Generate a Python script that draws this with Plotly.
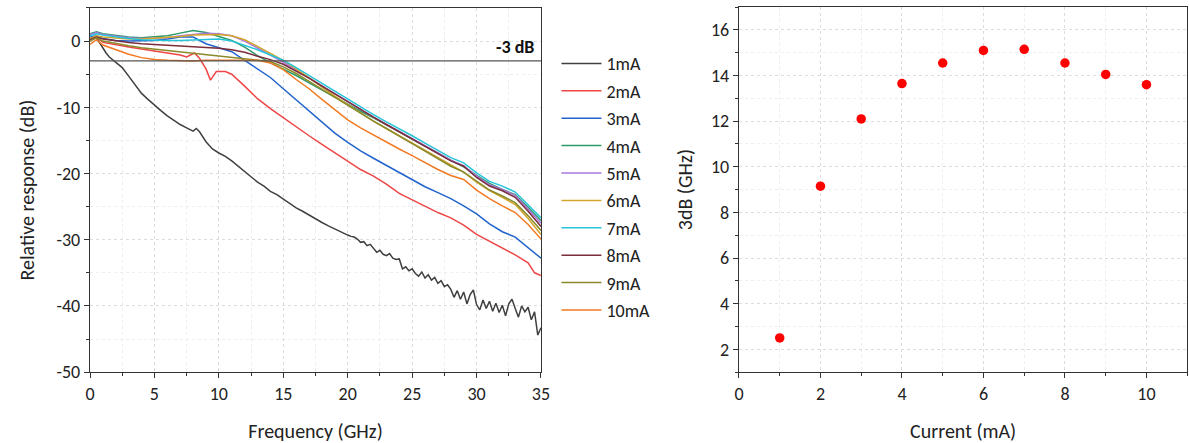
import plotly.graph_objects as go

# ---------------- data ----------------
series_names = ["1mA", "2mA", "3mA", "4mA", "5mA", "6mA", "7mA", "8mA", "9mA", "10mA"]
series_colors = ["#404040", "#ee4646", "#2164cc", "#2e9a68", "#a877dc", "#d2a62c",
                 "#26c4d8", "#7a2e3c", "#8a8a2a", "#f27a22"]

# shared frequency grid (GHz) for 3mA..10mA
freq = [0, 0.5, 1, 2, 3, 4, 5, 6, 7, 8, 9, 10, 11, 12, 13, 14, 15, 16, 17, 18, 19,
        20, 21, 22, 23, 24, 25, 26, 27, 28, 29, 30, 31, 32, 33, 34, 35]

# 1 mA (finer sampling, noisy at high frequency)
freq_1mA = [0, 0.25, 0.5, 0.75, 1, 1.25, 1.5, 2, 2.5, 3, 3.5, 4, 4.5, 5, 5.5, 6, 6.5, 7, 7.5, 8,
            8.25, 8.5, 9, 9.5, 10, 10.5, 11, 11.5, 12, 12.5, 13, 13.5, 14, 14.5, 15, 15.5, 16,
            16.5, 17, 17.5, 18, 18.5, 19, 19.5, 20,
            20.25, 20.5, 20.75, 21, 21.25, 21.5, 21.75, 22, 22.25, 22.5, 22.75, 23, 23.25, 23.5,
            23.75, 24, 24.25, 24.5, 24.75, 25, 25.25, 25.5, 25.75, 26, 26.25, 26.5, 26.75, 27,
            27.25, 27.5, 27.75, 28, 28.25, 28.5, 28.75, 29, 29.25, 29.5, 29.75, 30, 30.25, 30.5,
            30.75, 31, 31.25, 31.5, 31.75, 32, 32.25, 32.5, 32.75, 33, 33.25, 33.5, 33.75, 34,
            34.25, 34.5, 34.75, 35]
resp_1mA = [0.3, 0.6, 0.5, -0.3, -1.2, -1.8, -2.4, -3.2, -4.0, -5.3, -6.6, -7.9, -8.8, -9.7,
            -10.5, -11.3, -12.0, -12.6, -13.1, -13.6, -13.2, -13.7, -15.2, -16.3, -16.9, -17.4,
            -18.1, -18.9, -19.7, -20.6, -21.3, -21.9, -22.7, -23.2, -23.9, -24.6, -25.2, -25.7,
            -26.3, -26.9, -27.4, -27.9, -28.4, -28.9, -29.3,
            -29.5, -29.6, -29.9, -30.4, -30.3, -30.9, -30.7, -31.3, -31.9, -31.6, -32.2, -32.4,
            -32.1, -32.8, -33.0, -32.9, -34.4, -34.1, -34.7, -34.4, -35.1, -35.5, -34.9, -35.8,
            -35.3, -36.1, -35.7, -36.6, -36.2, -37.1, -36.8, -37.5, -38.7, -37.7, -39.0, -37.9,
            -39.7, -38.3, -37.6, -39.8, -40.6, -39.1, -40.4, -39.3, -40.8, -39.6, -41.0, -39.9,
            -41.5, -39.7, -39.0, -40.4, -41.7, -40.0, -40.9, -40.2, -42.1, -40.9, -44.4, -43.3]

# 2 mA (own grid to capture the dip near 9.4 GHz)
freq_2mA = [0, 0.5, 1, 2, 3, 4, 5, 6, 7, 7.5, 8.1, 8.5, 9.0, 9.35, 9.8, 10.5, 11, 12, 13, 14,
            15, 16, 17, 18, 19, 20, 21, 22, 23, 24, 25, 26, 27, 28, 29, 30, 31, 32, 33, 34,
            34.5, 35]
resp_2mA = [0.2, 0.6, -0.2, -0.6, -0.9, -1.2, -1.5, -1.8, -2.1, -2.4, -1.8, -2.6, -4.2, -5.9,
            -4.6, -4.6, -5.0, -6.8, -8.7, -10.2, -11.6, -12.9, -14.3, -15.6, -16.9, -18.2,
            -19.4, -20.4, -21.6, -23.0, -24.0, -25.0, -25.9, -26.7, -27.8, -29.2, -30.2, -31.2,
            -32.3, -33.5, -35.0, -35.4]

resp_3mA = [0.6, 0.8, 0.4, 0.1, 0.0, 0.0, 0.1, 0.3, 0.6, 0.6, -0.4, -1.0, -1.6, -2.9, -4.2,
            -5.5, -7.2, -8.9, -10.6, -12.3, -13.9, -15.3, -16.6, -17.7, -18.8, -19.9, -20.9,
            -22.0, -22.9, -23.8, -24.9, -26.1, -27.6, -28.8, -29.6, -31.2, -32.8]
resp_4mA = [1.1, 1.4, 1.1, 0.8, 0.6, 0.5, 0.6, 0.8, 1.2, 1.6, 1.3, 0.7, 0.1, -0.9, -2.2,
            -3.3, -4.2, -5.2, -6.3, -7.4, -8.5, -9.6, -10.6, -11.6, -12.6, -13.7, -14.8,
            -15.8, -16.9, -18.0, -19.0, -20.3, -21.5, -22.4, -23.2, -25.1, -27.1]
resp_5mA = [1.0, 1.3, 1.0, 0.7, 0.5, 0.4, 0.4, 0.5, 0.8, 1.0, 1.2, 1.1, 0.8, 0.0, -1.0,
            -2.1, -3.2, -4.4, -5.6, -6.8, -8.0, -9.2, -10.4, -11.5, -12.6, -13.6, -14.7,
            -15.8, -16.9, -18.0, -18.8, -20.4, -21.7, -22.4, -23.3, -25.4, -27.5]
resp_6mA = [0.4, 0.8, 0.6, 0.4, 0.3, 0.3, 0.4, 0.5, 0.7, 0.9, 1.0, 1.0, 0.8, 0.2, -0.8,
            -1.8, -2.9, -4.2, -5.6, -7.0, -8.3, -9.6, -10.9, -12.1, -13.2, -14.3, -15.4,
            -16.5, -17.6, -18.8, -19.8, -21.3, -22.6, -23.6, -24.7, -26.8, -29.2]
resp_7mA = [0.8, 1.1, 0.9, 0.6, 0.4, 0.2, 0.1, 0.1, 0.1, 0.2, 0.3, 0.3, 0.0, -0.6, -1.3,
            -2.1, -2.9, -4.0, -5.2, -6.4, -7.6, -8.8, -10.0, -11.1, -12.2, -13.2, -14.3,
            -15.4, -16.5, -17.6, -18.4, -19.9, -21.2, -21.9, -22.8, -24.8, -26.7]
resp_8mA = [0.2, 0.6, 0.3, 0.0, -0.2, -0.4, -0.5, -0.6, -0.8, -0.9, -1.0, -1.1, -1.3, -1.7,
            -2.3, -2.8, -3.5, -4.5, -5.6, -6.8, -8.0, -9.2, -10.4, -11.5, -12.6, -13.7, -14.8,
            -15.9, -17.0, -18.1, -18.9, -20.6, -21.9, -22.6, -23.6, -25.7, -28.0]
resp_9mA = [0.0, 0.5, 0.0, -0.4, -0.7, -1.0, -1.2, -1.4, -1.6, -1.8, -2.0, -2.2, -2.4, -2.6,
            -2.8, -3.1, -3.9, -4.9, -6.1, -7.3, -8.6, -9.8, -11.0, -12.1, -13.2, -14.4, -15.5,
            -16.6, -17.8, -18.9, -19.8, -21.2, -22.5, -23.4, -24.4, -26.4, -28.6]
resp_10mA = [-0.5, 0.2, -0.6, -1.3, -2.0, -2.5, -2.8, -2.9, -3.0, -3.0, -2.9, -2.9, -2.9,
             -2.9, -2.9, -3.3, -4.3, -5.8, -7.2, -8.8, -10.4, -11.9, -13.1, -14.2, -15.3,
             -16.3, -17.3, -18.4, -19.4, -20.3, -20.9, -22.5, -23.8, -24.9, -25.9, -27.7, -29.9]

# right panel
current_mA = [1, 2, 3, 4, 5, 6, 7, 8, 9, 10]
bw_3dB_GHz = [2.5, 9.15, 12.1, 13.65, 14.55, 15.1, 15.15, 14.55, 14.05, 13.6]

left_yticks = [-50, -40, -30, -20, -10, 0]
left_yticktext = ["-50", "-40", "-30", "-20", "-10", "0"]
left_xticks = [0, 5, 10, 15, 20, 25, 30, 35]
right_xticks = [0, 2, 4, 6, 8, 10]
right_yticks = [2, 4, 6, 8, 10, 12, 14, 16]
ref_level_dB = -3

# ---------------- figure ----------------
FONT = "Carlito, Lato, 'Open Sans', sans-serif"
xs = [freq_1mA, freq_2mA] + [freq] * 8
ys = [resp_1mA, resp_2mA, resp_3mA, resp_4mA, resp_5mA, resp_6mA, resp_7mA,
      resp_8mA, resp_9mA, resp_10mA]

fig = go.Figure()
for name, x, y, c in zip(series_names, xs, ys, series_colors):
    fig.add_trace(go.Scatter(x=x, y=y, mode="lines", name=name, legendgroup=name,
                             line=dict(color=c, width=1.5), xaxis="x", yaxis="y"))

fig.add_trace(go.Scatter(x=current_mA, y=bw_3dB_GHz, mode="markers", showlegend=False,
                         marker=dict(color="#ff0000", size=9.5), xaxis="x2", yaxis="y2"))

fig.add_shape(type="line", xref="x domain", x0=0, x1=1, yref="y", y0=ref_level_dB,
              y1=ref_level_dB, line=dict(color="#555555", width=1.2))
fig.add_annotation(x=34.6, y=ref_level_dB, xref="x", yref="y", text="<b>-3 dB</b>",
                   showarrow=False, xanchor="right", yanchor="bottom", yshift=1,
                   font=dict(size=18, color="#111111", family=FONT))

axis_common = dict(showline=True, linecolor="#333333", linewidth=1.3, mirror=True,
                   ticks="outside", ticklen=5, tickwidth=1.2, tickcolor="#333333",
                   showgrid=True, gridcolor="#dcdcdc", griddash="dot", gridwidth=1,
                   zeroline=False, automargin=False,
                   tickfont=dict(size=18, color="#222222", family=FONT),
                   title_font=dict(size=20, color="#222222", family=FONT))

fig.update_layout(
    width=1189, height=443,
    margin=dict(l=0, r=0, t=0, b=0, autoexpand=False),
    paper_bgcolor="white", plot_bgcolor="white",
    font=dict(family=FONT, color="#222222"),
    xaxis=dict(domain=[0.0757, 0.455], range=[0, 35], tickvals=left_xticks,
               title=dict(text="Frequency (GHz)", standoff=22),
               minor=dict(dtick=2.5, ticks="outside", ticklen=3, tickcolor="#333333",
                          showgrid=True, gridcolor="#eeeeee", griddash="dot"),
               anchor="y", **axis_common),
    yaxis=dict(domain=[0.16, 0.982], range=[-50, 5], tickvals=left_yticks,
               ticktext=left_yticktext,
               title=dict(text="Relative response (dB)", standoff=16),
               minor=dict(dtick=5, ticks="outside", ticklen=3, tickcolor="#333333",
                          showgrid=True, gridcolor="#eeeeee", griddash="dot"),
               anchor="x", **axis_common),
    xaxis2=dict(domain=[0.6215, 0.9985], range=[0, 11], tickvals=right_xticks,
                title=dict(text="Current (mA)", standoff=20),
                minor=dict(dtick=1, ticks="outside", ticklen=3, tickcolor="#333333",
                           showgrid=True, gridcolor="#eeeeee", griddash="dot"),
                anchor="y2", **axis_common),
    yaxis2=dict(domain=[0.16, 0.984], range=[1, 17], tickvals=right_yticks,
                title=dict(text="3dB (GHz)", standoff=12),
                minor=dict(dtick=1, ticks="outside", ticklen=3, tickcolor="#333333",
                           showgrid=True, gridcolor="#eeeeee", griddash="dot"),
                anchor="x2", **axis_common),
    legend=dict(x=0.468, y=0.898, xanchor="left", yanchor="top",
                font=dict(size=18, color="#222222", family=FONT),
                tracegroupgap=1, bgcolor="rgba(0,0,0,0)", itemwidth=40),
    showlegend=True,
)

fig.write_html("out.html", config={"displayModeBar": False},
               post_script="document.body.style.margin='0';"
                           "document.body.style.overflow='hidden';")
